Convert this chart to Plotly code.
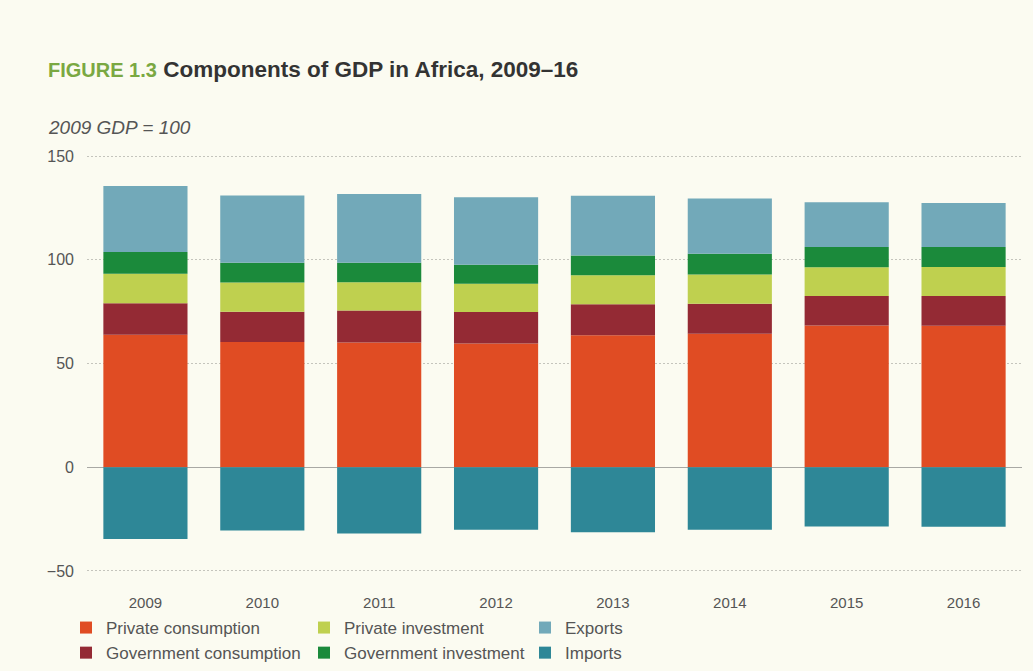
import plotly.graph_objects as go

# Components of GDP in Africa, index 2009 GDP = 100
years = ["2009", "2010", "2011", "2012", "2013", "2014", "2015", "2016"]
private_consumption = [63.9, 60.4, 60.1, 59.6, 63.6, 64.4, 68.3, 68.2]
government_consumption = [15.2, 14.6, 15.5, 15.2, 14.9, 14.4, 14.2, 14.3]
private_investment = [14.2, 14.1, 13.6, 13.7, 14.0, 14.1, 13.9, 14.0]
government_investment = [10.4, 9.5, 9.4, 9.1, 9.6, 10.0, 9.7, 9.7]
exports = [31.8, 32.4, 33.1, 32.5, 28.8, 26.6, 21.6, 21.2]
imports = [-34.6, -30.5, -31.9, -30.1, -31.4, -30.1, -28.6, -28.7]

y_ticks = [-50, 0, 50, 100, 150]

BG = "#fbfbf1"
FONT = "Liberation Sans, Arial, sans-serif"

# plot area geometry (pixels)
W, H = 1033, 671
L, R, T, B = 87, 11, 155, 99
PW, PH = W - L - R, H - T - B


def px_x(px):
    return (px - L) / PW


def px_y(py):
    return 1 - (py - T) / PH


series = [
    ("Private consumption", private_consumption, "#e04c23", "legend"),
    ("Government consumption", government_consumption, "#942a34", "legend"),
    ("Private investment", private_investment, "#bfd04f", "legend2"),
    ("Government investment", government_investment, "#1b8a3b", "legend2"),
    ("Exports", exports, "#72a9b9", "legend3"),
    ("Imports", imports, "#2e8797", "legend3"),
]

fig = go.Figure()
for name, vals, color, leg in series:
    fig.add_trace(go.Bar(
        x=years, y=vals, name=name, legend=leg,
        marker=dict(color=color, line=dict(width=0)),
        hoverinfo="x+y+name",
    ))

legend_style = dict(
    orientation="v", xanchor="left", yanchor="top",
    y=px_y(610),
    bgcolor="rgba(0,0,0,0)", borderwidth=0,
    font=dict(family=FONT, size=17, color="#555555"),
    traceorder="normal", itemclick=False, itemdoubleclick=False,
)

fig.update_layout(
    width=W, height=H,
    paper_bgcolor=BG, plot_bgcolor=BG,
    margin=dict(l=L, r=R, t=T, b=B, autoexpand=False),
    barmode="relative", bargap=0.28,
    font=dict(family=FONT, color="#555555"),
    showlegend=True,
    legend=dict(legend_style, x=px_x(66)),
    legend2=dict(legend_style, x=px_x(304)),
    legend3=dict(legend_style, x=px_x(525)),
    xaxis=dict(
        type="category", showgrid=False, zeroline=False, showline=False,
        ticks="", ticklabelstandoff=20,
        tickfont=dict(family=FONT, size=15, color="#555555"),
    ),
    yaxis=dict(
        range=[-50.5, 150.5], tickvals=y_ticks,
        showgrid=True, gridcolor="#c4c4bc", gridwidth=1, griddash="2px,2px",
        zeroline=True, zerolinecolor="#a8a8a4", zerolinewidth=1,
        showline=False, ticks="", ticklabelstandoff=12,
        tickfont=dict(family=FONT, size=16, color="#555555"),
    ),
    annotations=[
        dict(
            text="<b><span style='color:#7aa842;font-size:20px'>FIGURE 1.3</span> "
                 "Components of GDP in Africa, 2009–16</b>",
            xref="paper", yref="paper", x=px_x(46), y=px_y(70),
            xanchor="left", yanchor="middle", showarrow=False,
            font=dict(family=FONT, size=22.5, color="#333333"),
        ),
        dict(
            text="<i>2009 GDP = 100</i>",
            xref="paper", yref="paper", x=px_x(46), y=px_y(127.5),
            xanchor="left", yanchor="middle", showarrow=False,
            font=dict(family=FONT, size=19, color="#555555"),
        ),
    ],
)

fig.write_html("out.html")
